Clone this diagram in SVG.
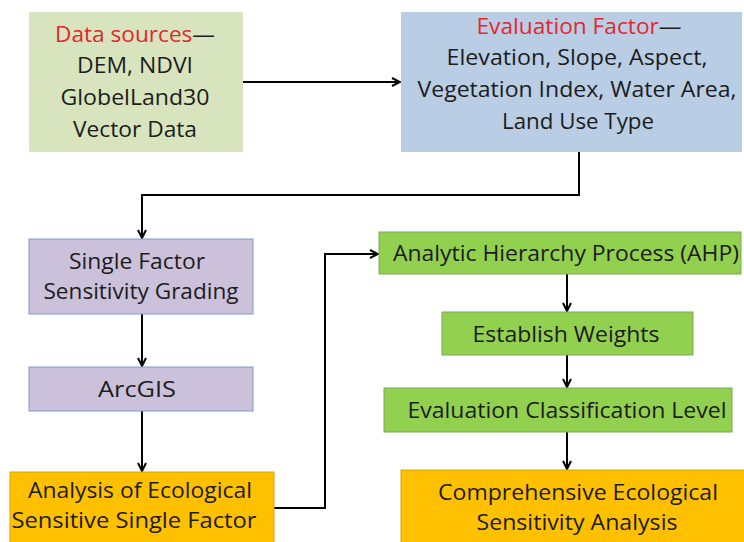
<svg xmlns="http://www.w3.org/2000/svg" width="744" height="542" viewBox="0 0 744 542">
<defs>
<marker id="arr" viewBox="0 0 10 10" refX="9" refY="5" markerWidth="10" markerHeight="10" markerUnits="userSpaceOnUse" orient="auto">
<path d="M1,1 L9,5 L1,9" fill="none" stroke="#000" stroke-width="2"/>
</marker>
<style>
text{font-family:"Open Sans","Liberation Sans",Arial,sans-serif;font-size:22px;fill:#1c1c1c;text-anchor:middle}
.red{fill:#e32630}
.c{fill:none;stroke:#000;stroke-width:2;marker-end:url(#arr)}
.lav{fill:#ccc1da;stroke:#7f9bcc;stroke-width:1}
.grn{fill:#92d050;stroke:#7fa75a;stroke-width:1}
.org{fill:#ffc000;stroke:#d9a300;stroke-width:1}
</style>
</defs>
<rect width="744" height="542" fill="#fff"/>
<g id="connectors">
<path class="c" d="M243,82 H400"/>
<path class="c" d="M579,152 V195 H142 V238"/>
<path class="c" d="M142,314 V366"/>
<path class="c" d="M142,411 V471"/>
<path class="c" d="M274,508 H325 V254 H378"/>
<path class="c" d="M567,274 V311"/>
<path class="c" d="M567,355 V387"/>
<path class="c" d="M567,432 V469"/>
</g>
<g id="data-sources">
<rect x="29" y="12" width="214" height="140" fill="#d7e4bd"/>
<text x="135" y="42" textLength="160" lengthAdjust="spacingAndGlyphs"><tspan class="red">Data sources</tspan>—</text>
<text x="135" y="73" textLength="116" lengthAdjust="spacingAndGlyphs">DEM, NDVI</text>
<text x="135" y="105" textLength="149" lengthAdjust="spacingAndGlyphs">GlobelLand30</text>
<text x="135" y="137" textLength="124" lengthAdjust="spacingAndGlyphs">Vector Data</text>
</g>
<g id="evaluation-factor">
<rect x="401" y="12" width="341" height="140" fill="#b9cde5"/>
<text x="579" y="34" textLength="205" lengthAdjust="spacingAndGlyphs"><tspan class="red">Evaluation Factor</tspan>—</text>
<text x="577" y="65" textLength="261" lengthAdjust="spacingAndGlyphs">Elevation, Slope, Aspect,</text>
<text x="577" y="97" textLength="319" lengthAdjust="spacingAndGlyphs">Vegetation Index, Water Area,</text>
<text x="578" y="129" textLength="152" lengthAdjust="spacingAndGlyphs">Land Use Type</text>
</g>
<g id="single-factor">
<rect class="lav" x="29" y="239" width="224" height="75"/>
<text x="137" y="269" textLength="136" lengthAdjust="spacingAndGlyphs">Single Factor</text>
<text x="141" y="299" textLength="195" lengthAdjust="spacingAndGlyphs">Sensitivity Grading</text>
</g>
<g id="arcgis">
<rect class="lav" x="29" y="367" width="224" height="44"/>
<text x="137" y="397" textLength="78" lengthAdjust="spacingAndGlyphs">ArcGIS</text>
</g>
<g id="single-analysis">
<rect class="org" x="10" y="472" width="264" height="75"/>
<text x="140" y="498" textLength="224" lengthAdjust="spacingAndGlyphs">Analysis of Ecological</text>
<text x="134" y="528" textLength="245" lengthAdjust="spacingAndGlyphs">Sensitive Single Factor</text>
</g>
<g id="ahp">
<rect class="grn" x="379" y="232" width="362" height="42"/>
<text x="566" y="261" textLength="346" lengthAdjust="spacingAndGlyphs">Analytic Hierarchy Process (AHP)</text>
</g>
<g id="weights">
<rect class="grn" x="442" y="312" width="251" height="43"/>
<text x="566" y="342" textLength="187" lengthAdjust="spacingAndGlyphs">Establish Weights</text>
</g>
<g id="classification">
<rect class="grn" x="384" y="388" width="348" height="44"/>
<text x="567" y="418" textLength="319" lengthAdjust="spacingAndGlyphs">Evaluation Classification Level</text>
</g>
<g id="comprehensive">
<rect class="org" x="401" y="470" width="350" height="80"/>
<text x="578" y="500" textLength="280" lengthAdjust="spacingAndGlyphs">Comprehensive Ecological</text>
<text x="577" y="530" textLength="201" lengthAdjust="spacingAndGlyphs">Sensitivity Analysis</text>
</g>
</svg>
